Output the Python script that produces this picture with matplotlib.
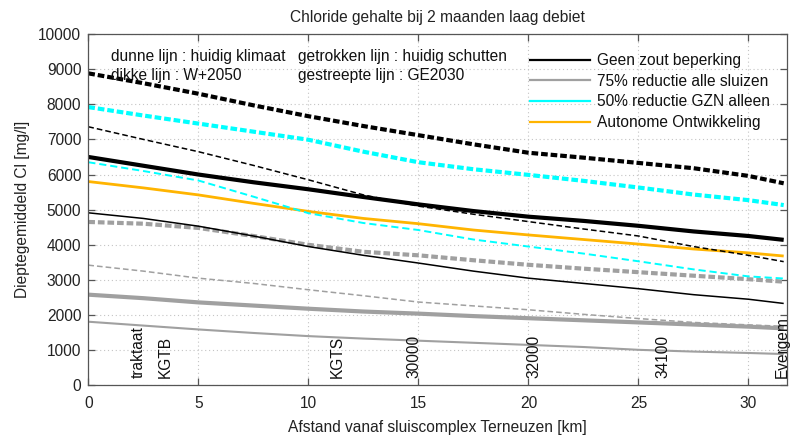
import matplotlib
matplotlib.use('Agg')
import matplotlib.pyplot as plt
from matplotlib.lines import Line2D

plt.rcParams['font.family'] = ['Liberation Sans', 'DejaVu Sans']

# ---- data ----
km = [0, 2.5, 5, 7.5, 10, 12.5, 15, 17.5, 20, 22.5, 25, 27.5, 30, 31.6]

geen_w2050_ge2030 = [8880, 8600, 8300, 7970, 7660, 7380, 7120, 6860, 6620, 6480, 6330, 6180, 5960, 5750]
gzn_w2050_ge2030 = [7920, 7680, 7450, 7220, 6990, 6650, 6350, 6150, 5990, 5820, 5630, 5430, 5270, 5130]
geen_huidig_ge2030 = [7360, 7000, 6650, 6260, 5850, 5420, 5100, 4870, 4660, 4450, 4250, 3950, 3700, 3520]
geen_w2050_huidig = [6500, 6250, 6000, 5780, 5580, 5360, 5150, 4960, 4800, 4680, 4540, 4380, 4250, 4140]
gzn_huidig_ge2030 = [6350, 6100, 5830, 5370, 4900, 4620, 4420, 4150, 3950, 3750, 3530, 3300, 3100, 3040]
autonoom = [5800, 5620, 5420, 5180, 4950, 4750, 4600, 4420, 4280, 4150, 4020, 3880, 3770, 3680]
geen_huidig_huidig = [4910, 4750, 4530, 4250, 3950, 3700, 3480, 3250, 3050, 2900, 2750, 2580, 2450, 2330]
red75_w2050_ge2030 = [4650, 4600, 4480, 4250, 4000, 3800, 3700, 3560, 3430, 3320, 3220, 3120, 3020, 2950]
red75_huidig_ge2030 = [3420, 3250, 3050, 2900, 2720, 2550, 2370, 2260, 2150, 2020, 1900, 1790, 1720, 1680]
red75_w2050_huidig = [2580, 2480, 2360, 2270, 2180, 2100, 2040, 1970, 1910, 1850, 1790, 1730, 1670, 1620]
red75_huidig_huidig = [1810, 1700, 1590, 1490, 1400, 1330, 1270, 1210, 1150, 1090, 1010, 960, 920, 890]

legend_labels = ['Geen zout beperking', '75% reductie alle sluizen',
                 '50% reductie GZN alleen', 'Autonome Ontwikkeling']
loc_names = ['traktaat', 'KGTB', 'KGTS', '30000', '32000', '34100', 'Evergem']
loc_km = [2.26, 3.49, 11.3, 14.8, 20.25, 26.1, 31.55]

x_ticks = [0, 5, 10, 15, 20, 25, 30]
y_ticks = [0, 1000, 2000, 3000, 4000, 5000, 6000, 7000, 8000, 9000, 10000]

# ---- styles ----
BLACK = '#000000'
GRAY = '#a0a0a0'
CYAN = '#00ffff'
ORANGE = '#ffb400'
THICK = 3.0
THIN = 1.1
FS = 11.2
thick_dash = (1.6, 0.7)
thin_dash = (3.7, 2.0)

fig = plt.figure(figsize=(7.92, 4.36), dpi=100)
ax = fig.add_axes([88.3 / 792, 1 - 385.3 / 436, 698.7 / 792, 351.3 / 436])

def plot(y, color, lw, dashes=None, z=2):
    ln, = ax.plot(km, y, color=color, lw=lw, zorder=z, solid_capstyle='butt')
    if dashes is not None:
        ln.set_dashes(dashes)
        ln.set_dash_capstyle('butt')
    return ln

plot(red75_huidig_huidig, GRAY, 1.5)
plot(red75_w2050_huidig, GRAY, THICK)
plot(red75_huidig_ge2030, GRAY, THIN, thin_dash)
plot(red75_w2050_ge2030, GRAY, THICK, thick_dash)
plot(geen_huidig_huidig, BLACK, THIN)
plot(autonoom, ORANGE, 2.0)
plot(gzn_huidig_ge2030, CYAN, THIN + 0.3, thin_dash)
plot(geen_w2050_huidig, BLACK, THICK)
plot(geen_huidig_ge2030, BLACK, THIN, thin_dash)
plot(gzn_w2050_ge2030, CYAN, THICK, thick_dash)
plot(geen_w2050_ge2030, BLACK, THICK, thick_dash)

ax.set_xlim(0, 31.75)
ax.set_ylim(0, 10000)
ax.set_xticks(x_ticks)
ax.set_yticks(y_ticks)
ax.grid(True, color='#c4c4c4', lw=0.8, linestyle=(0, (1, 2.5)))
ax.set_axisbelow(True)
for s in ax.spines.values():
    s.set_color('#555555')
    s.set_linewidth(0.9)
ax.tick_params(axis='both', direction='in', length=5, width=0.9, color='#555555',
               top=True, right=True, labelsize=FS, labelcolor='#222222')
ax.tick_params(axis='x', pad=8)
ax.tick_params(axis='y', pad=5)

ax.set_title('Chloride gehalte bij 2 maanden laag debiet', fontsize=FS,
             color='#222222', pad=9)
ax.set_xlabel('Afstand vanaf sluiscomplex Terneuzen [km]', fontsize=FS,
              color='#222222', labelpad=6)
ax.set_ylabel('Dieptegemiddeld Cl [mg/l]', fontsize=FS, color='#222222', labelpad=6)

# annotations
ax.text(1.05, 9350, 'dunne lijn : huidig klimaat', fontsize=FS, va='center', color='#111111')
ax.text(1.05, 8830, 'dikke lijn : W+2050', fontsize=FS, va='center', color='#111111')
ax.text(9.53, 9350, 'getrokken lijn : huidig schutten', fontsize=FS, va='center', color='#111111')
ax.text(9.53, 8830, 'gestreepte lijn : GE2030', fontsize=FS, va='center', color='#111111')

for name, xk in zip(loc_names, loc_km):
    ax.text(xk, 210, name, rotation=90, ha='center', va='bottom',
            fontsize=FS, color='#111111')

handles = [Line2D([], [], color=c, lw=1.6) for c in (BLACK, GRAY, CYAN, ORANGE)]
leg = ax.legend(handles, legend_labels, loc='upper left',
                bbox_to_anchor=(0.632, 0.946), frameon=False, fontsize=FS,
                borderpad=0, borderaxespad=0, handlelength=3.85,
                handletextpad=0.45, labelspacing=0.37)
for t in leg.get_texts():
    t.set_color('#111111')

fig.savefig('out.png', dpi=100)
